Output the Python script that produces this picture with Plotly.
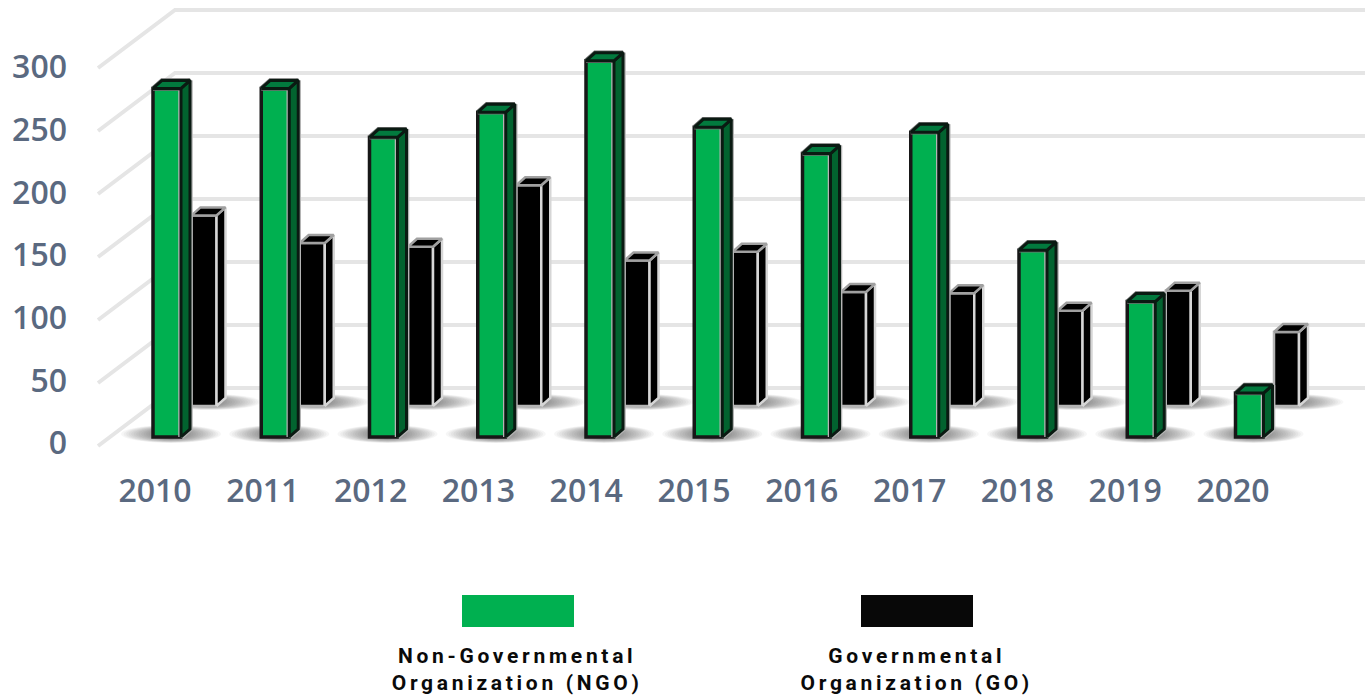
import plotly.graph_objects as go

YEARS = [2010, 2011, 2012, 2013, 2014, 2015, 2016, 2017, 2018, 2019, 2020]
NGO = [278, 278, 239, 259, 300, 247, 226, 243, 149, 108, 35]
GO = [152, 130, 127, 176, 116, 123, 91, 90, 76, 92, 59]
Y_TICKS = [0, 50, 100, 150, 200, 250, 300]
LEGEND_NAMES = ["Non-Governmental<br>Organization (NGO)", "Governmental<br>Organization (GO)"]

W, H = 1368, 697
PX_YEAR, PX_UNIT = 108.25, 1.254
X0_PX, Y0_PX = 167, 437


def xd(px):
    return 2010 + (px - X0_PX) / PX_YEAR


def yd(px):
    return (Y0_PX - px) / PX_UNIT


DX, DY = 9 / PX_YEAR, 8 / PX_UNIT
NGO_W = 28 / PX_YEAR
GO_W = 25 / PX_YEAR
GO_SHIFT = 37 / PX_YEAR
GO_BASE = 31 / PX_UNIT


def sides(xs, tops, bases, half):
    ox, oy = [], []
    for c, t, b in zip(xs, tops, bases):
        r = c + half
        ox += [r, r + DX, r + DX, r, r, None]
        oy += [b, b + DY, t + DY, t, b, None]
    return ox, oy


def tops_of(xs, tops, half):
    ox, oy = [], []
    for c, t in zip(xs, tops):
        ox += [c - half, c - half + DX, c + half + DX, c + half, c - half, None]
        oy += [t, t + DY, t + DY, t, t, None]
    return ox, oy


go_x = [y + GO_SHIFT for y in YEARS]
go_top = [v + GO_BASE for v in GO]
go_base = [GO_BASE] * len(GO)
ngo_base = [0] * len(NGO)

fig = go.Figure()
fig.add_bar(x=YEARS, y=GO, base=GO_BASE, width=GO_W, offset=GO_SHIFT - GO_W / 2, name="GO",
            marker=dict(color="#000000", line=dict(color="#b4b4b4", width=2.5)), hoverinfo="skip")
fig.add_bar(x=YEARS, y=NGO, width=NGO_W, offset=-NGO_W / 2, name="NGO",
            marker=dict(color="#00b050", line=dict(color="#171717", width=3.5)), hoverinfo="skip")


def poly(ox, oy, fill, line, width):
    fig.add_scatter(x=ox, y=oy, mode="lines", fill="toself" if fill else None, fillcolor=fill,
                    line=dict(color=line, width=width), hoverinfo="skip", showlegend=False)


sx, sy = sides(go_x, go_top, go_base, GO_W / 2)
poly(sx, sy, "#000000", "#d6d6d6", 2.5)
tx, ty = tops_of(go_x, go_top, GO_W / 2)
poly(tx, ty, "#000000", "#a0a0a0", 2.5)

sx, sy = sides(YEARS, NGO, ngo_base, NGO_W / 2)
poly(sx, sy, None, "#b4b4b4", 5.5)
tx, ty = tops_of(YEARS, NGO, NGO_W / 2)
poly(tx, ty, None, "#707070", 4.5)
poly(sx, sy, "#02632f", "#0a1a12", 3)
poly(tx, ty, "#027a3e", "#0a1a12", 3)

# invisible trace that carries the label axes
fig.add_scatter(x=YEARS[:len(Y_TICKS)], y=Y_TICKS, xaxis="x2", yaxis="y2", mode="markers",
                marker=dict(opacity=0), hoverinfo="skip", showlegend=False)

shapes = []
XL, XB, XR = xd(98), xd(175), xd(1365)
GRID_SCALE = 1.26 / PX_UNIT
for v in Y_TICKS:
    front = yd(446) + v * GRID_SCALE
    back = yd(388) + v * GRID_SCALE
    shapes.append(dict(type="path", path=f"M {XL} {front} L {XB} {back} L {XR} {back}",
                       xref="x", yref="y", layer="below", line=dict(color="#e5e5e5", width=4)))

LEVELS = 16
for y, gx in zip(YEARS, go_x):
    for k in range(LEVELS):
        f = 1 - k * 0.75 / (LEVELS - 1)
        g = 1 - k * 0.45 / (LEVELS - 1)
        cx = y + 4 / PX_YEAR
        shapes.append(dict(type="circle", xref="x", yref="y", layer="below", line=dict(width=0),
                           fillcolor="rgba(0,0,0,0.035)",
                           x0=cx - f * 50 / PX_YEAR, x1=cx + f * 50 / PX_YEAR,
                           y0=yd(434 + g * 9), y1=yd(434 - g * 9)))
        cx = gx + 5 / PX_YEAR
        shapes.append(dict(type="circle", xref="x", yref="y", layer="below", line=dict(width=0),
                           fillcolor="rgba(0,0,0,0.03)",
                           x0=cx - f * 52 / PX_YEAR, x1=cx + f * 52 / PX_YEAR,
                           y0=yd(402 + g * 8), y1=yd(402 - g * 8)))

annotations = []
for name, col, x0, x1 in zip(LEGEND_NAMES, ["#00b050", "#080808"], [462, 861], [574, 973]):
    shapes.append(dict(type="rect", xref="paper", yref="paper", x0=x0 / W, x1=x1 / W,
                       y0=1 - 627 / H, y1=1 - 595 / H, fillcolor=col, line=dict(width=0)))
    annotations.append(dict(xref="paper", yref="paper", x=(x0 + x1 - 2) / 2 / W, y=1 - 669 / H,
                            text=name, showarrow=False, xanchor="center", yanchor="middle", align="center",
                            font=dict(family="Liberation Sans Narrow, Roboto, sans-serif", size=21,
                                      color="#0a0a0a", weight="bold")))

label_font = dict(family="Open Sans, sans-serif", size=32, color="#5a6980", weight=600)

fig.update_layout(
    width=W, height=H, margin=dict(l=0, r=0, t=0, b=0), autosize=False,
    paper_bgcolor="white", plot_bgcolor="white", showlegend=False, barmode="overlay",
    xaxis=dict(range=[xd(0), xd(W)], visible=False, fixedrange=True),
    yaxis=dict(range=[yd(H), yd(0)], visible=False, fixedrange=True),
    xaxis2=dict(overlaying="x", anchor="free", position=1 - 469 / H,
                range=[2010 - 155 / 107.8, 2010 + (W - 155) / 107.8],
                tickmode="array", tickvals=YEARS, ticktext=[str(y) for y in YEARS],
                showgrid=False, zeroline=False, showline=False, ticks="", tickfont=label_font, side="bottom"),
    yaxis2=dict(overlaying="y", anchor="free", position=67 / W, side="left",
                range=[(443 - H) / 1.2533, 443 / 1.2533],
                tickmode="array", tickvals=Y_TICKS, ticktext=[str(v) for v in Y_TICKS],
                showgrid=False, zeroline=False, showline=False, ticks="", tickfont=label_font),
    shapes=shapes, annotations=annotations,
)

fig.write_html("out.html", config=dict(displayModeBar=False), post_script="""
document.body.style.margin='0';
document.querySelectorAll('.annotation-text').forEach(function(e){e.style.letterSpacing='3.7px';});
""")
